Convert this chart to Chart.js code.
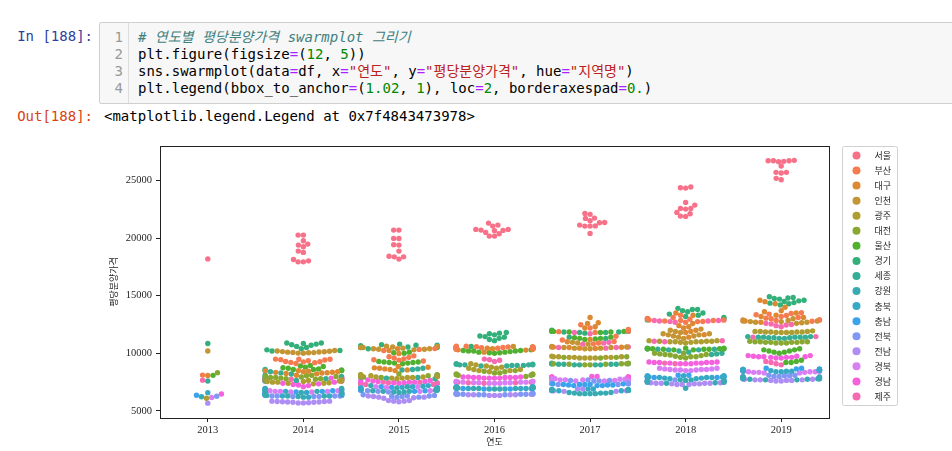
<!DOCTYPE html>
<html>
<head>
<meta charset="utf-8">
<script src="https://cdn.jsdelivr.net/npm/chart.js@4.4.1/dist/chart.umd.min.js"></script>
<style>
body { margin: 0; background: #fff; width: 952px; height: 451px; overflow: hidden; position: relative; }
.mono { font-family: 'DejaVu Sans Mono', 'Noto Sans CJK KR', monospace; font-size: 14px; line-height: 17px; white-space: pre; }
.prompt { position: absolute; left: 0; width: 93px; text-align: right; }
#cell { position: absolute; left: 99px; top: 22px; width: 870px; height: 80px; background: #f7f7f7; border: 1px solid #cfcfcf; border-radius: 2px; }
#gutter { position: absolute; left: 0; top: 0; width: 28px; height: 100%; border-right: 1px solid #ddd; }
#lineno { position: absolute; right: 5px; top: 6px; color: #999; text-align: right; }
#code { position: absolute; left: 38px; top: 6px; color: #000; }
.c { color: #408080; font-style: italic; }
.o { color: #AA22FF; }
.n { color: #008800; }
.s { color: #BA2121; }
#chartBox { position: absolute; left: 0; top: 130px; width: 952px; height: 321px; }
</style>
</head>
<body>
<div class="mono prompt" style="top:28px; color:#303F9F;">In [188]:</div>
<div id="cell">
  <div id="gutter"><div id="lineno" class="mono">1
2
3
4</div></div>
  <div id="code" class="mono"><span class="c"># 연도별 평당분양가격 swarmplot 그리기</span>
plt.figure(figsize<span class="o">=</span>(<span class="n">12</span>, <span class="n">5</span>))
sns.swarmplot(data<span class="o">=</span>df, x<span class="o">=</span><span class="s">"연도"</span>, y<span class="o">=</span><span class="s">"평당분양가격"</span>, hue<span class="o">=</span><span class="s">"지역명"</span>)
plt.legend(bbox_to_anchor<span class="o">=</span>(<span class="n">1.02</span>, <span class="n">1</span>), loc<span class="o">=</span><span class="n">2</span>, borderaxespad<span class="o">=</span><span class="n">0.</span>)</div>
</div>
<div class="mono prompt" style="top:108px; color:#D84315;">Out[188]:</div>
<div class="mono" style="position:absolute; left:104px; top:108px;">&lt;matplotlib.legend.Legend at 0x7f4843473978&gt;</div>
<div id="chartBox"><canvas id="swarmChart" width="952" height="321"></canvas></div>

<script>
const years = ['2013', '2014', '2015', '2016', '2017', '2018', '2019'];
const regions = ['서울', '부산', '대구', '인천', '광주', '대전', '울산', '경기', '세종',
                 '강원', '충북', '충남', '전북', '전남', '경북', '경남', '제주'];
const colors = ['#f77189', '#f67b51', '#dc8932', '#c59433', '#ae9d31', '#88a832', '#50b131',
                '#33b07a', '#35ae95', '#37abb1', '#38a9c5', '#3ba3ec', '#8197f4', '#ae8df4',
                '#d97ff4', '#f561dd', '#f66bb0'];
const yTicks = [5000, 10000, 15000, 20000, 25000];

// 지역별 평당분양가격, 연도별(2013 ~ 2019) 월별 값
const seoul = [
  [18189],
  [20252, 20252, 19757, 19470, 19384, 19236, 18750, 18863, 18142, 17934, 17934, 18020],
  [20686, 20686, 19965, 19960, 19384, 19420, 18863, 18368, 18170, 18368, 18420],
  [21293, 21033, 21120, 20747, 20686, 20486, 20625, 20660, 20747, 20165, 20165, 20365],
  [22135, 22050, 21700, 21493, 21727, 21320, 21033, 21033, 21120, 21350, 20400, 21050],
  [24358, 24330, 24418, 23090, 22569, 22509, 22569, 22856, 22222, 21900, 21875, 22100],
  [26736, 26700, 26615, 26650, 26700, 26700, 26240, 25694, 25634, 25694, 25174, 25052]
];
const busan = [
  [8111],
  [9120, 9180, 9260, 9290, 9350, 9420, 9450, 9480, 9500, 9490, 9270, 9210],
  [9330, 9410, 9440, 9520, 9590, 9650, 9700, 9780, 10250, 10340, 10410],
  [10380, 10450, 10500, 10520, 10550, 10580, 10610, 10420, 10460, 10480, 10560, 10620],
  [10820, 10900, 11020, 11150, 11480, 11800, 11880, 11960, 11940, 12080, 12480, 12200],
  [12760, 12840, 12900, 12700, 12750, 12950, 13020, 12800, 13100, 13300, 12900, 12850],
  [13000, 13100, 13200, 13280, 13400, 13450, 13520, 12900, 12850, 12780, 13050, 13350]
];
const daegu = [
  [8080],
  [8100, 8220, 8290, 8350, 8400, 8450, 8480, 8500, 8310, 8260, 8410, 8360],
  [8500, 8560, 8600, 8650, 8700, 8740, 8790, 8850, 9980, 10240, 10400],
  [10100, 10280, 10350, 10400, 10450, 10500, 10410, 10300, 10440, 10380, 10420, 10480],
  [10450, 10500, 10540, 11000, 11200, 12200, 12300, 12580, 12650, 13100, 10520, 10420],
  [11400, 11620, 11800, 12000, 12200, 12400, 12580, 13000, 13300, 13500, 12300, 11900],
  [13200, 13500, 13700, 14000, 14300, 14480, 14600, 13600, 13300, 13100, 12800, 12700]
];
const incheon = [
  [10204],
  [10000, 10050, 10080, 10100, 10120, 10150, 10200, 10250, 10180, 10020, 10060, 10130],
  [10300, 10350, 10400, 10450, 10500, 10550, 10600, 10620, 10500, 10400, 10350],
  [10400, 10450, 10500, 10550, 10600, 10500, 10450, 10480, 10520, 10550, 10400, 10350],
  [10400, 10450, 10500, 10550, 10600, 10800, 10900, 10950, 10500, 10450, 10400, 10550],
  [11300, 11400, 11500, 11600, 11700, 11800, 11900, 12000, 12100, 11500, 11600, 11700],
  [12600, 12700, 12750, 12800, 12900, 13000, 12850, 12700, 12650, 12750, 12800, 12900]
];
const gwangju = [
  [6098],
  [7350, 7400, 7450, 7500, 7550, 7600, 7650, 7700, 7400, 7500, 7550, 7600],
  [7800, 7850, 7900, 7950, 8000, 8050, 8100, 8000, 7950, 7900, 7850],
  [8400, 8500, 8600, 8700, 8800, 8900, 9000, 9100, 8600, 8500, 8700, 8800],
  [9600, 9650, 9700, 9650, 9600, 9700, 9750, 9650, 9600, 9700, 9650, 9600],
  [10900, 11000, 11050, 11100, 11000, 10950, 11050, 11100, 11000, 11000, 10950, 11050],
  [11800, 11850, 11900, 11850, 11800, 11900, 11950, 11850, 11800, 11900, 11850, 11800]
];
const daejeon = [
  [8321],
  [7700, 7800, 7850, 7900, 7950, 8000, 8050, 8100, 7900, 7800, 7750, 8000],
  [7900, 8000, 8050, 8100, 8150, 8200, 8000, 7950, 8050, 8100, 8150],
  [8000, 8100, 8150, 8200, 8300, 8400, 8450, 8500, 8100, 8200, 8300, 8150],
  [9000, 9050, 9100, 9150, 9100, 9050, 9000, 9650, 9700, 9600, 9650, 9100],
  [9600, 9700, 9800, 9900, 10000, 9650, 9750, 9850, 9900, 9950, 10000, 9700],
  [10900, 10950, 11000, 10950, 10900, 11000, 11050, 10950, 10900, 11000, 10950, 11000]
];
const ulsan = [
  [8090],
  [8500, 8550, 8600, 8700, 8800, 8850, 8900, 8950, 8650, 8750, 8600, 8500],
  [9100, 9150, 9200, 9250, 9300, 9250, 9200, 9150, 10000, 10050, 10100],
  [10000, 10050, 10100, 10200, 10250, 10300, 10250, 10200, 10100, 10050, 10150, 10200],
  [11200, 11300, 11350, 11400, 11800, 11850, 11900, 11950, 11300, 11250, 11900, 11850],
  [10300, 10350, 10400, 10450, 10400, 10350, 10400, 10450, 10400, 10350, 10400, 10300],
  [10000, 10100, 10200, 10300, 10400, 9200, 9300, 9400, 9200, 10100, 10200, 10300]
];
const gyeonggi = [
  [10855],
  [10200, 10250, 10300, 10400, 10500, 10600, 10700, 10800, 10850, 10900, 10900, 10750],
  [10400, 10500, 10550, 10600, 10650, 10700, 10750, 10800, 10600, 10500, 10700],
  [11100, 11300, 11450, 11500, 11700, 11750, 11800, 11200, 11600, 10500, 10600, 11400],
  [11750, 11800, 11850, 11900, 11950, 12000, 11900, 11800, 11850, 11950, 11300, 11400],
  [13100, 13300, 13500, 13700, 13800, 13900, 13600, 13400, 13200, 13000, 12900, 13800],
  [14200, 14300, 14400, 14500, 14600, 14700, 14800, 14900, 14850, 14750, 14550, 14350]
];
const sejong = [
  [7601],
  [7600, 7650, 7700, 7800, 7900, 8000, 8100, 8200, 8300, 8400, 8500, 8600],
  [7800, 7900, 8000, 8100, 8600, 8700, 8650, 8550, 8000, 7950, 7850],
  [8900, 8950, 9000, 9050, 9000, 8950, 9100, 9050, 9000, 8900, 8950, 9000],
  [9000, 9050, 9100, 9050, 9000, 9100, 9150, 9050, 9000, 9100, 9050, 9000],
  [10300, 10350, 10400, 9900, 9950, 10000, 10100, 10200, 10300, 10350, 10400, 10450],
  [11300, 11350, 11400, 11450, 11400, 11350, 11400, 11450, 11400, 11350, 11300, 11400]
];
const gangwon = [
  [6230],
  [6200, 6250, 6300, 6350, 6400, 6500, 6600, 6700, 6800, 6900, 6950, 6300],
  [6600, 6650, 6700, 6800, 6900, 7000, 7100, 7200, 6700, 6750, 6650],
  [6900, 6950, 7000, 7050, 7000, 6950, 7000, 7050, 6950, 7000, 7050, 6900],
  [6500, 6550, 6600, 6500, 6550, 6800, 6850, 6800, 6500, 6550, 6600, 6500],
  [7500, 7550, 7600, 7650, 7700, 7400, 7450, 7500, 7600, 7650, 6970, 7700],
  [7700, 7750, 7800, 7850, 7900, 7950, 7800, 7750, 7700, 7850, 7900, 7800]
];
const chungbuk = [
  [6589],
  [6200, 6300, 6400, 6500, 6600, 6700, 6800, 6900, 6600, 6500, 6400, 6300],
  [6900, 7000, 7100, 7200, 7000, 6950, 7050, 7150, 6900, 6850, 7000],
  [6900, 6950, 7000, 7050, 7100, 7000, 6950, 7050, 7000, 6900, 6950, 7050],
  [6800, 6850, 6900, 6800, 6750, 6850, 6800, 6900, 6850, 6800, 6750, 6850],
  [7800, 7850, 7900, 7950, 8000, 8050, 7900, 7850, 7800, 7950, 8000, 7900],
  [8400, 8450, 8500, 8550, 8600, 8500, 8450, 8400, 8550, 8600, 8500, 8450]
];
const chungnam = [
  [6365],
  [6400, 6500, 6600, 6700, 6800, 6900, 6950, 6850, 6750, 6650, 6550, 6450],
  [6700, 6800, 6900, 7000, 7050, 7100, 6950, 6850, 6750, 6800, 6900],
  [6900, 7000, 7050, 7100, 7000, 6950, 7050, 7000, 6900, 6950, 7100, 7000],
  [7200, 7250, 7300, 7350, 7300, 7250, 7200, 7300, 7350, 7250, 7300, 7200],
  [7900, 7950, 8000, 8050, 8100, 8000, 7950, 7900, 8050, 8100, 8000, 7950],
  [8500, 8550, 8600, 8650, 8700, 8600, 8550, 8500, 8650, 8700, 8600, 8550]
];
const jeonbuk = [
  [6282],
  [6250, 6300, 6350, 6300, 6250, 6350, 6400, 6300, 6250, 6350, 6300, 6400],
  [6200, 6250, 6300, 6350, 6400, 6300, 6250, 6200, 6650, 6700, 6750],
  [6400, 6450, 6500, 6450, 6400, 6500, 6550, 6450, 6400, 6500, 6450, 6550],
  [7300, 7350, 7400, 7600, 7650, 7700, 7300, 7350, 7650, 7600, 7350, 7400],
  [7500, 7550, 7600, 7650, 7700, 7500, 7550, 7600, 7650, 7700, 7600, 7550],
  [7900, 7950, 8000, 8050, 8100, 7950, 8000, 8050, 7900, 8100, 8000, 7950]
];
const jeonnam = [
  [5678],
  [5700, 5720, 5750, 5780, 5800, 5820, 5850, 5750, 5700, 5780, 5820, 5850],
  [5800, 5850, 5900, 6100, 6150, 6200, 6250, 6300, 5850, 5900, 6200],
  [6350, 6400, 6450, 6500, 6400, 6450, 6350, 6400, 6500, 6450, 6400, 6350],
  [6700, 6750, 6800, 6850, 6900, 6750, 6800, 6700, 6850, 6800, 6750, 6900],
  [7300, 7350, 7400, 7450, 7400, 7350, 7300, 7400, 7450, 7350, 7400, 7300],
  [7600, 7650, 7700, 7750, 7800, 7700, 7650, 7600, 7750, 7800, 7700, 7650]
];
const gyeongbuk = [
  [6168],
  [6550, 6600, 6650, 6700, 6750, 6600, 6650, 6700, 6550, 6600, 6750, 6700],
  [7000, 7050, 7100, 6900, 6950, 7000, 7050, 6700, 6750, 6800, 7100],
  [7400, 7450, 7500, 7550, 7450, 7400, 7500, 7550, 7450, 7400, 7500, 7450],
  [7600, 7650, 7700, 7750, 7800, 7700, 7650, 7600, 7750, 7800, 7700, 7650],
  [8500, 8550, 8600, 8650, 8700, 8600, 8550, 8500, 8650, 8700, 8600, 8550],
  [8300, 8350, 8400, 8450, 8500, 8400, 8350, 8300, 8450, 8500, 8400, 8350]
];
const gyeongnam = [
  [6473],
  [7100, 7200, 7300, 7400, 7500, 7600, 7700, 7800, 7850, 7900, 7250, 7350],
  [7400, 7450, 7500, 7550, 7600, 7650, 7700, 7550, 7500, 7450, 7600],
  [7850, 7900, 7950, 7900, 7850, 7950, 7900, 7850, 7950, 7900, 7850, 7900],
  [7850, 7900, 7950, 8000, 7900, 7850, 7950, 8000, 7900, 7850, 7950, 7900],
  [9100, 9150, 9200, 9250, 9200, 9150, 9100, 9200, 9250, 9150, 9200, 9100],
  [9600, 9650, 9700, 9750, 9800, 9700, 9650, 9600, 9750, 9800, 9700, 9650]
];
const jeju = [
  [7674],
  [7600, 7700, 7800, 7850, 7900, 7750, 7650, 7600, 7700, 7800, 7850, 7900],
  [7300, 7350, 7400, 7450, 7500, 7400, 7350, 7300, 7450, 7500, 7400],
  [9300, 9400, 9450, 9500, 7500, 7550, 7450, 7500, 7550, 7400, 7450, 7500],
  [10800, 10900, 10950, 10500, 10550, 11700, 11800, 10450, 10500, 7900, 7950, 7850],
  [12700, 12750, 12800, 12850, 12900, 11000, 11050, 11100, 9100, 9150, 12800, 12850],
  [12300, 12400, 12450, 12500, 12550, 12600, 11400, 11450, 9100, 9200, 9300, 9000]
];

const prices = [seoul, busan, daegu, incheon, gwangju, daejeon, ulsan, gyeonggi, sejong,
                gangwon, chungbuk, chungnam, jeonbuk, jeonnam, gyeongbuk, gyeongnam, jeju];

const datasets = regions.map((name, r) => {
  const points = [];
  prices[r].forEach((vals, yi) => vals.forEach(v => points.push({ x: yi, y: v, year: yi })));
  return {
    label: name,
    data: points,
    backgroundColor: colors[r],
    borderWidth: 0,
    pointRadius: 2.7,
    pointHoverRadius: 2.7
  };
});

// seaborn 식 beeswarm: 아래쪽 값부터 차례로 겹치지 않는 가장 가까운 자리에 배치
function beeswarm(pys, d) {
  const order = pys.map((_, i) => i).sort((a, b) => pys[b] - pys[a]);
  const swarm = [];
  const out = new Array(pys.length);
  order.forEach(i => {
    const y = pys[i];
    const neighbors = [];
    for (let k = swarm.length - 1; k >= 0; k--) {
      if (Math.abs(swarm[k].y - y) < d) neighbors.unshift(swarm[k]);
      else break;
    }
    const cands = [0];
    let leftFirst = true;
    neighbors.forEach(p => {
      const dx = Math.sqrt(Math.max(d * d - (y - p.y) ** 2, 0)) * 1.05;
      if (leftFirst) cands.push(p.x - dx, p.x + dx);
      else cands.push(p.x + dx, p.x - dx);
      leftFirst = !leftFirst;
    });
    const sorted = cands.map((x, k) => ({ x, k }))
      .sort((a, b) => (Math.abs(a.x) - Math.abs(b.x)) || (a.k - b.k));
    let x = sorted[0].x;
    for (const c of sorted) {
      if (neighbors.every(p => (p.x - c.x) ** 2 + (p.y - y) ** 2 >= d * d - 1e-6)) { x = c.x; break; }
    }
    swarm.push({ x, y });
    out[i] = x;
  });
  return out;
}

function placeSwarm(chart) {
  const xs = chart.scales.x, ys = chart.scales.y;
  const catW = xs.getPixelForValue(1) - xs.getPixelForValue(0);
  const half = catW * 0.4;
  years.forEach((_, yi) => {
    const pts = [];
    chart.data.datasets.forEach(ds => ds.data.forEach(p => { if (p.year === yi) pts.push(p); }));
    const offs = beeswarm(pts.map(p => ys.getPixelForValue(p.y)), 5);
    pts.forEach((p, i) => {
      const o = Math.max(-half, Math.min(half, offs[i]));
      p.x = yi + o / catW;
    });
  });
  chart.update('none');
}

const frame = {
  id: 'frame',
  afterDatasetsDraw(chart) {
    const { ctx, chartArea: a } = chart;
    ctx.save();
    ctx.strokeStyle = '#222';
    ctx.lineWidth = 1;
    ctx.strokeRect(Math.round(a.left) + 0.5, Math.round(a.top) + 0.5,
                   Math.round(a.right - a.left), Math.round(a.bottom - a.top));
    ctx.restore();
  }
};

const boxLegend = {
  id: 'boxLegend',
  afterDraw(chart) {
    const { ctx, chartArea: a } = chart;
    const left = Math.round(a.right + 0.02 * (a.right - a.left)) + 0.5;
    const top = Math.round(a.top) + 0.5;
    const rowH = 15.06;
    ctx.save();
    ctx.font = "9px 'Noto Sans CJK KR'";
    const textW = Math.max(...regions.map(t => ctx.measureText(t).width));
    const w = Math.round(32 + textW + 6);
    const h = Math.round(18 + rowH * (regions.length - 1));
    const r = 2;
    ctx.beginPath();
    ctx.moveTo(left + r, top);
    ctx.lineTo(left + w - r, top);
    ctx.arcTo(left + w, top, left + w, top + r, r);
    ctx.lineTo(left + w, top + h - r);
    ctx.arcTo(left + w, top + h, left + w - r, top + h, r);
    ctx.lineTo(left + r, top + h);
    ctx.arcTo(left, top + h, left, top + h - r, r);
    ctx.lineTo(left, top + r);
    ctx.arcTo(left, top, left + r, top, r);
    ctx.closePath();
    ctx.fillStyle = 'rgba(255,255,255,0.8)';
    ctx.fill();
    ctx.strokeStyle = '#d0d0d0';
    ctx.lineWidth = 1;
    ctx.stroke();
    ctx.textBaseline = 'middle';
    ctx.textAlign = 'left';
    regions.forEach((name, i) => {
      const cy = top + 9 + i * rowH;
      ctx.beginPath();
      ctx.arc(left + 14, cy, 4, 0, Math.PI * 2);
      ctx.fillStyle = colors[i];
      ctx.fill();
      ctx.fillStyle = '#262626';
      ctx.fillText(name, left + 32, cy);
    });
    ctx.restore();
  }
};

const tickFont = { family: "'Liberation Serif', serif", size: 10.5 };
const labelFont = { family: "'Noto Sans CJK KR', sans-serif", size: 9 };

const chart = new Chart(document.getElementById('swarmChart').getContext('2d'), {
  type: 'scatter',
  data: { datasets: datasets },
  options: {
    responsive: false,
    animation: false,
    events: [],
    layout: { padding: { left: 100, right: 123, top: 16, bottom: 0 } },
    plugins: { legend: { display: false }, tooltip: { enabled: false } },
    scales: {
      x: {
        type: 'linear',
        min: -0.5,
        max: 6.5,
        afterBuildTicks: scale => { scale.ticks = years.map((_, i) => ({ value: i })); },
        afterFit: scale => { scale.height = 33; },
        ticks: {
          autoSkip: false, maxRotation: 0, padding: 2, color: '#262626', font: tickFont,
          callback: v => years[v]
        },
        grid: { drawOnChartArea: false, drawTicks: true, tickLength: 4, tickColor: '#222' },
        border: { display: false },
        title: { display: true, text: '연도', color: '#262626', font: labelFont, padding: { top: 0, bottom: 4 } }
      },
      y: {
        min: 4390,
        max: 27980,
        afterBuildTicks: scale => { scale.ticks = yTicks.map(v => ({ value: v })); },
        afterFit: scale => { scale.width = 60; },
        ticks: { padding: 4, color: '#262626', font: tickFont, callback: v => String(v) },
        grid: { drawOnChartArea: false, drawTicks: true, tickLength: 4, tickColor: '#222' },
        border: { display: false },
        title: { display: true, text: '평당분양가격', color: '#262626', font: labelFont, padding: { top: 8, bottom: 0 } }
      }
    }
  },
  plugins: [frame, boxLegend]
});

placeSwarm(chart);
</script>
</body>
</html>
